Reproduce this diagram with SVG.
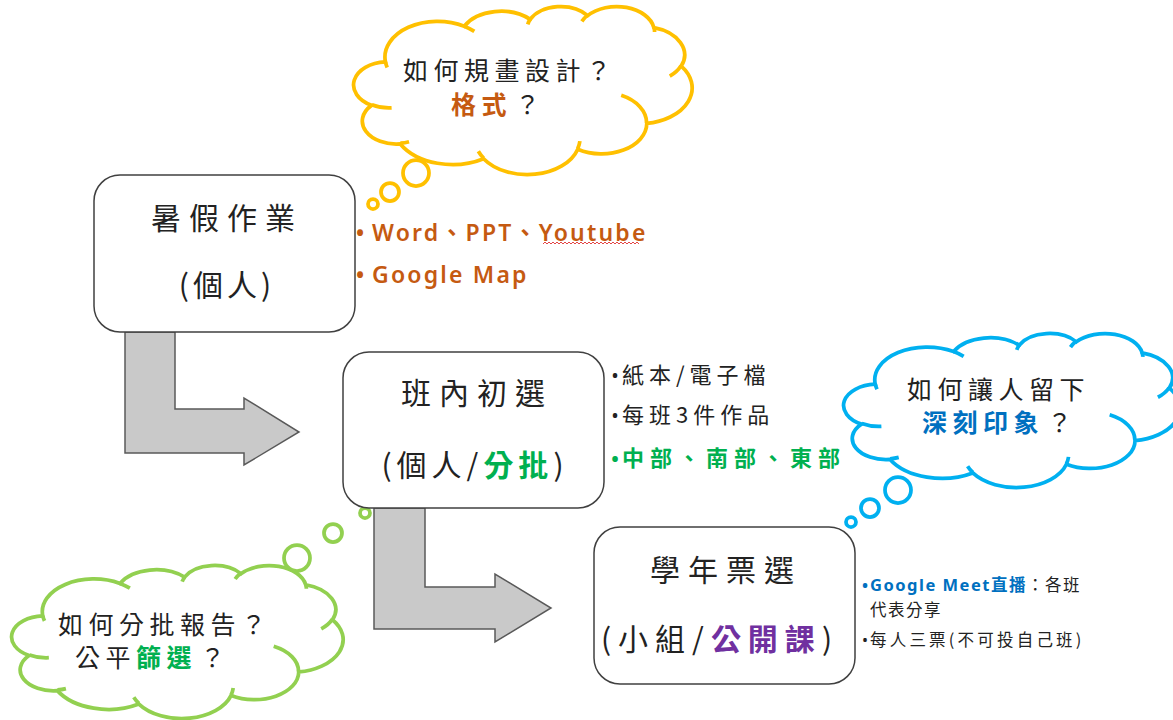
<svg xmlns="http://www.w3.org/2000/svg" width="1173" height="720" viewBox="0 0 1173 720">
<style>
.cj{font-family:"Noto Sans CJK TC","Noto Sans",sans-serif;fill:#222}
.lt{font-family:"Noto Sans","Noto Sans CJK TC",sans-serif}
.box{fill:#fff;stroke:#404040;stroke-width:1.5}
.arrow{fill:#c9c9c9;stroke:#595959;stroke-width:1.5;stroke-linejoin:miter}
.cl{fill:#fff;stroke-width:3.75px}
.ci{fill:none;stroke-width:3.75px}
.bub{fill:#fff;stroke-width:3.75}
.y{stroke:#FFC000}.b{stroke:#00B0F0}.g{stroke:#92D050}
.ttl{font-size:30px;letter-spacing:8px;text-anchor:middle}
.cld{font-size:25px;letter-spacing:5.5px}
.org{fill:#C55A11;font-weight:600}
.grn{fill:#00B050;font-weight:700}
.blu{fill:#0070C0;font-weight:700}
.pur{fill:#7030A0;font-weight:700}
</style>

<g id="cloud-yellow">
<g transform="translate(355,6) scale(0.0078009,0.0038889)">
<path class="cl y" vector-effect="non-scaling-stroke" d="M3900 14370 A6753 9190 0 0 1 14005 5202 A5333 7267 0 0 1 22456 3433 A4365 5945 0 0 1 29834 2481 A4857 6595 0 0 1 38319 5577 A5333 7273 0 0 1 41819 15460 A6775 9220 0 0 1 37404 30203 A5785 7867 0 0 1 28556 36813 A6752 9215 0 0 1 16481 39266 A7720 10543 0 0 1 5805 35472 A4360 5918 0 0 1 2114 25550 A4345 5945 0 0 1 3900 14370 Z"/>
<path class="ci y" vector-effect="non-scaling-stroke" d="M4693 26177 A4345 5945 0 0 1 2160 25380 M6928 34899 A4360 5918 0 0 1 5820 35281 M16478 39090 A6752 9215 0 0 1 15810 37349 M28827 34751 A6752 9215 0 0 1 28561 36660 M34129 22954 A5785 7867 0 0 1 37380 30090 M41798 15354 A5333 7273 0 0 1 40350 18030 M38324 5426 A4857 6595 0 0 1 38401 6690 M29078 3952 A4857 6595 0 0 1 29820 2339 M22141 4720 A4365 5945 0 0 1 22498 3337 M14000 5192 A6753 9190 0 0 1 15300 6541 M4127 15789 A6753 9190 0 0 1 3900 14370"/>
</g>
<circle class="bub y" cx="416" cy="173" r="13"/>
<circle class="bub y" cx="390" cy="192" r="9"/>
<circle class="bub y" cx="373" cy="204" r="5"/>
<text class="cj cld" x="403" y="80">如何規畫設計？</text>
<text class="cj cld" x="451" y="114"><tspan class="org" style="font-weight:700">格式</tspan><tspan dx="3">？</tspan></text>
</g>

<g id="cloud-blue">
<g transform="translate(845,333) scale(0.0077546,0.0035648)">
<path class="cl b" vector-effect="non-scaling-stroke" d="M3900 14370 A6753 9190 0 0 1 14005 5202 A5333 7267 0 0 1 22456 3433 A4365 5945 0 0 1 29834 2481 A4857 6595 0 0 1 38319 5577 A5333 7273 0 0 1 41819 15460 A6775 9220 0 0 1 37404 30203 A5785 7867 0 0 1 28556 36813 A6752 9215 0 0 1 16481 39266 A7720 10543 0 0 1 5805 35472 A4360 5918 0 0 1 2114 25550 A4345 5945 0 0 1 3900 14370 Z"/>
<path class="ci b" vector-effect="non-scaling-stroke" d="M4693 26177 A4345 5945 0 0 1 2160 25380 M6928 34899 A4360 5918 0 0 1 5820 35281 M16478 39090 A6752 9215 0 0 1 15810 37349 M28827 34751 A6752 9215 0 0 1 28561 36660 M34129 22954 A5785 7867 0 0 1 37380 30090 M41798 15354 A5333 7273 0 0 1 40350 18030 M38324 5426 A4857 6595 0 0 1 38401 6690 M29078 3952 A4857 6595 0 0 1 29820 2339 M22141 4720 A4365 5945 0 0 1 22498 3337 M14000 5192 A6753 9190 0 0 1 15300 6541 M4127 15789 A6753 9190 0 0 1 3900 14370"/>
</g>
<circle class="bub b" cx="898" cy="490" r="13"/>
<circle class="bub b" cx="870" cy="508" r="9"/>
<circle class="bub b" cx="851" cy="522" r="5"/>
<text class="cj cld" x="907" y="399">如何讓人留下</text>
<text class="cj cld" x="922" y="432"><tspan class="blu">深刻印象</tspan><tspan dx="3">？</tspan></text>
</g>

<g id="cloud-green">
<g transform="translate(13,565) scale(0.0076389,0.0035417)">
<path class="cl g" vector-effect="non-scaling-stroke" d="M3900 14370 A6753 9190 0 0 1 14005 5202 A5333 7267 0 0 1 22456 3433 A4365 5945 0 0 1 29834 2481 A4857 6595 0 0 1 38319 5577 A5333 7273 0 0 1 41819 15460 A6775 9220 0 0 1 37404 30203 A5785 7867 0 0 1 28556 36813 A6752 9215 0 0 1 16481 39266 A7720 10543 0 0 1 5805 35472 A4360 5918 0 0 1 2114 25550 A4345 5945 0 0 1 3900 14370 Z"/>
<path class="ci g" vector-effect="non-scaling-stroke" d="M4693 26177 A4345 5945 0 0 1 2160 25380 M6928 34899 A4360 5918 0 0 1 5820 35281 M16478 39090 A6752 9215 0 0 1 15810 37349 M28827 34751 A6752 9215 0 0 1 28561 36660 M34129 22954 A5785 7867 0 0 1 37380 30090 M41798 15354 A5333 7273 0 0 1 40350 18030 M38324 5426 A4857 6595 0 0 1 38401 6690 M29078 3952 A4857 6595 0 0 1 29820 2339 M22141 4720 A4365 5945 0 0 1 22498 3337 M14000 5192 A6753 9190 0 0 1 15300 6541 M4127 15789 A6753 9190 0 0 1 3900 14370"/>
</g>
<circle class="bub g" cx="297" cy="558" r="13"/>
<circle class="bub g" cx="333" cy="533" r="9"/>
<circle class="bub g" cx="365" cy="513" r="5"/>
<text class="cj cld" x="58" y="634">如何分批報告？</text>
<text class="cj cld" x="75" y="667">公平<tspan class="grn">篩選</tspan><tspan dx="3">？</tspan></text>
</g>

<g id="connectors">
<polygon class="arrow" points="125,332 175,332 175,409 244,409 244,398 299,432 244,465 244,453 125,453"/>
<polygon class="arrow" points="374,508 425,508 425,587 495,587 495,574 551,608 495,642 495,629 374,629"/>
</g>

<g id="node-summer">
<rect class="box" x="94" y="175" width="261" height="157" rx="26"/>
<text class="cj ttl" x="227" y="229">暑假作業</text>
<text class="cj ttl" x="227" y="296" style="letter-spacing:4px">(個人)</text>
</g>

<g id="node-class">
<rect class="box" x="343" y="352" width="261" height="156" rx="26"/>
<text class="cj ttl" x="477" y="404">班內初選</text>
<text class="cj ttl" x="475" y="476" style="letter-spacing:5px">(個人/<tspan class="grn">分批</tspan>)</text>
</g>

<g id="node-grade">
<rect class="box" x="594" y="527" width="261" height="157" rx="26"/>
<text class="cj ttl" x="720" y="650" style="letter-spacing:7px">(小組/<tspan class="pur">公開課</tspan>)</text>
<text class="cj ttl" x="726" y="581">學年票選</text>
</g>

<g id="notes-summer">
<text class="lt org" x="360" y="241" font-size="23" text-anchor="middle">•</text>
<text class="lt org" x="372" y="241" font-size="23" letter-spacing="2.2">Word、PPT、Youtube</text>
<path d="M543 244 l2 -2 2 2 2 -2 2 2 2 -2 2 2 2 -2 2 2 2 -2 2 2 2 -2 2 2 2 -2 2 2 2 -2 2 2 2 -2 2 2 2 -2 2 2 2 -2 2 2 2 -2 2 2 2 -2 2 2 2 -2 2 2 2 -2 2 2 2 -2 2 2 2 -2 2 2 2 -2 2 2 2 -2 2 2 2 -2 2 2 2 -2 2 2 2 -2 2 2 2 -2 2 2 2 -2 2 2" fill="none" stroke="#E03030" stroke-width="0.9"/>
<text class="lt org" x="360" y="283" font-size="23" text-anchor="middle">•</text>
<text class="lt org" x="372" y="283" font-size="23" letter-spacing="2.2">Google Map</text>
</g>

<g id="notes-class">
<text class="lt" x="615" y="383" font-size="20" text-anchor="middle" fill="#222">•</text>
<text class="cj" x="622" y="383" font-size="22" letter-spacing="5">紙本/電子檔</text>
<text class="lt" x="615" y="423" font-size="20" text-anchor="middle" fill="#222">•</text>
<text class="cj" x="622" y="423" font-size="22" letter-spacing="5">每班3件作品</text>
<text class="lt grn" x="615" y="466" font-size="20" text-anchor="middle">•</text>
<text class="cj grn" x="622" y="466" font-size="22" letter-spacing="6">中部、南部、東部</text>
</g>

<g id="notes-grade">
<text class="lt blu" x="865" y="591" font-size="16" text-anchor="middle">•</text>
<text class="cj" x="870" y="591" font-size="16.5" letter-spacing="1.5"><tspan class="lt blu">Google Meet直播</tspan>：各班</text>
<text class="cj" x="870" y="616" font-size="16.5" letter-spacing="1.5">代表分享</text>
<text class="lt" x="865" y="646" font-size="16" text-anchor="middle" fill="#222">•</text>
<text class="cj" x="870" y="646" font-size="16.5" letter-spacing="3.2">每人三票(不可投自己班)</text>
</g>
</svg>
